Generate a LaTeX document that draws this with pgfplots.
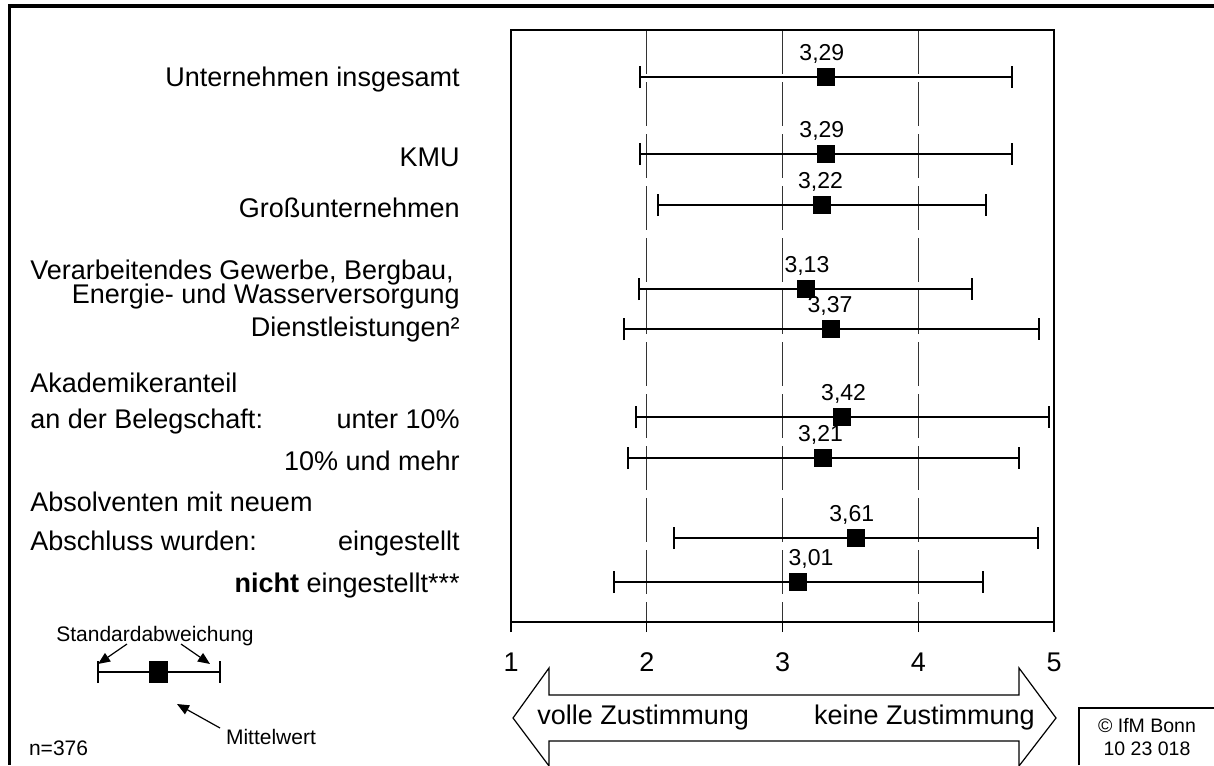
\documentclass[border=0pt]{standalone}
\usepackage{pgfplots}
\usepackage{pgfplotstable}
\pgfplotsset{compat=1.18}
\usepackage{fontspec}
\setmainfont{Liberation Sans}
\usetikzlibrary{arrows.meta}
\newcommand\fa{\fontsize{13.5}{16}\selectfont}
\newcommand\fb{\fontsize{11.5}{13}\selectfont}
\newcommand\fc{\fontsize{10.5}{12.5}\selectfont}
\newcommand\fd{\fontsize{9.75}{11.5}\selectfont}

\pgfplotstableread{
row m sd
77 3.32 1.37
154 3.32 1.37
205 3.29 1.21
289 3.17 1.225
329 3.36 1.53
417 3.44 1.52
458 3.30 1.44
538 3.54 1.34
582 3.115 1.36
}\means

\pgfplotstableread{
row lx lab
54 3.29 3,29
131 3.29 3,29
182 3.28 3,22
266 3.18 3,13
306 3.35 3,37
394 3.45 3,42
435 3.28 3,21
515 3.51 3,61
559 3.21 3,01
}\labs

\begin{document}
\begin{tikzpicture}
\begin{scope}[x=0.5pt,y=-0.5pt]
\useasboundingbox (0,0) rectangle (1214,765);
% outer frame
\draw[line width=2pt] (8,6) -- (1214,6);
\draw[line width=1.5pt] (9,5) -- (9,765);
% row labels
\begin{scope}[every node/.style={font=\fa, inner sep=0pt}]
\node[anchor=base east] at (460,87) {Unternehmen insgesamt};
\node[anchor=base east] at (460,166) {KMU};
\node[anchor=base east] at (460,217) {Großunternehmen};
\node[anchor=base west] at (30,279) {Verarbeitendes Gewerbe, Bergbau,};
\node[anchor=base east] at (460,303) {Energie- und Wasserversorgung};
\node[anchor=base east] at (460,336) {Dienstleistungen²};
\node[anchor=base west] at (30,392) {Akademikeranteil};
\node[anchor=base west] at (30,428) {an der Belegschaft:};
\node[anchor=base east] at (460,428) {unter 10\%};
\node[anchor=base east] at (460,470) {10\% und mehr};
\node[anchor=base west] at (30,511) {Absolventen mit neuem};
\node[anchor=base west] at (30,550) {Abschluss wurden:};
\node[anchor=base east] at (460,550) {eingestellt};
\node[anchor=base east] at (460,592) {\textbf{nicht} eingestellt***};
\end{scope}
% scale arrow
\draw[line width=0.6pt] (513,718) -- (549,668) -- (549,695) -- (1019,695) -- (1019,668) -- (1056,718) -- (1019,766) -- (1019,741) -- (549,741) -- (549,766) -- cycle;
\node[font=\fa, anchor=west, inner sep=0pt] at (537,718) {volle Zustimmung};
\node[font=\fa, anchor=east, inner sep=0pt] at (1035,718) {keine Zustimmung};
% legend explanation
\node[font=\fc] at (155,636) {Standardabweichung};
\draw[-{Triangle[length=6pt,width=5pt]}, line width=0.6pt] (127,644) -- (98,664);
\draw[-{Triangle[length=6pt,width=5pt]}, line width=0.6pt] (181,644) -- (210,664);
\draw[-{Triangle[length=6pt,width=5pt]}, line width=0.6pt] (220,728) -- (177,704);
\node[font=\fc, anchor=west] at (219,737) {Mittelwert};
\node[font=\fc, anchor=west] at (22,748) {n=376};
% copyright box
\draw[line width=0.8pt] (1079,765) -- (1079,708) -- (1214,708);
\node[font=\fd] at (1147,726) {© IfM Bonn};
\node[font=\fd] at (1147,749) {10 23 018};
\end{scope}

\begin{axis}[
 at={(391.25pt,-163pt)}, anchor=center,
 scale only axis, width=271.5pt, height=296pt,
 xmin=1, xmax=5, ymin=30, ymax=622, y dir=reverse,
 axis line style={line width=1pt},
 xtick={1,2,3,4,5}, ytick=\empty,
 xtick pos=bottom, tick align=outside, major tick length=5pt,
 tick style={line width=0.6pt, black},
 xmajorgrids, grid style={black!80, line width=0.5pt, dash pattern=on 22pt off 4pt},
 xticklabel style={font=\fa, yshift=-7pt},
 /pgf/number format/assume math mode=true,
 clip=false,
]
\addplot[only marks, mark=square*, mark size=4.25pt, black,
  error bars/.cd, x dir=both, x explicit,
  error bar style={line width=1pt, black},
  error mark options={rotate=90, mark size=5.5pt, line width=1pt, black}]
  table[x=m, y=row, x error=sd] {\means};
\addplot[draw=none, mark=none, nodes near coords, point meta=explicit symbolic,
  nodes near coords style={font=\fb, anchor=center}]
  table[x=lx, y=row, meta=lab] {\labs};
\end{axis}

% legend glyph: one mean with its standard deviation
\begin{axis}[
 at={(80pt,-336pt)}, anchor=center,
 scale only axis, width=61pt, height=10pt,
 xmin=0, xmax=1, ymin=-1, ymax=1, hide axis, clip=false,
]
\addplot[only marks, mark=square*, mark size=5.25pt, mark options={xscale=0.86}, black,
  error bars/.cd, x dir=both, x explicit,
  error bar style={line width=0.8pt, black},
  error mark options={rotate=90, mark size=5.5pt, line width=0.8pt, black}]
  coordinates {(0.49,0) +- (0.5,0)};
\end{axis}
\end{tikzpicture}
\end{document}
